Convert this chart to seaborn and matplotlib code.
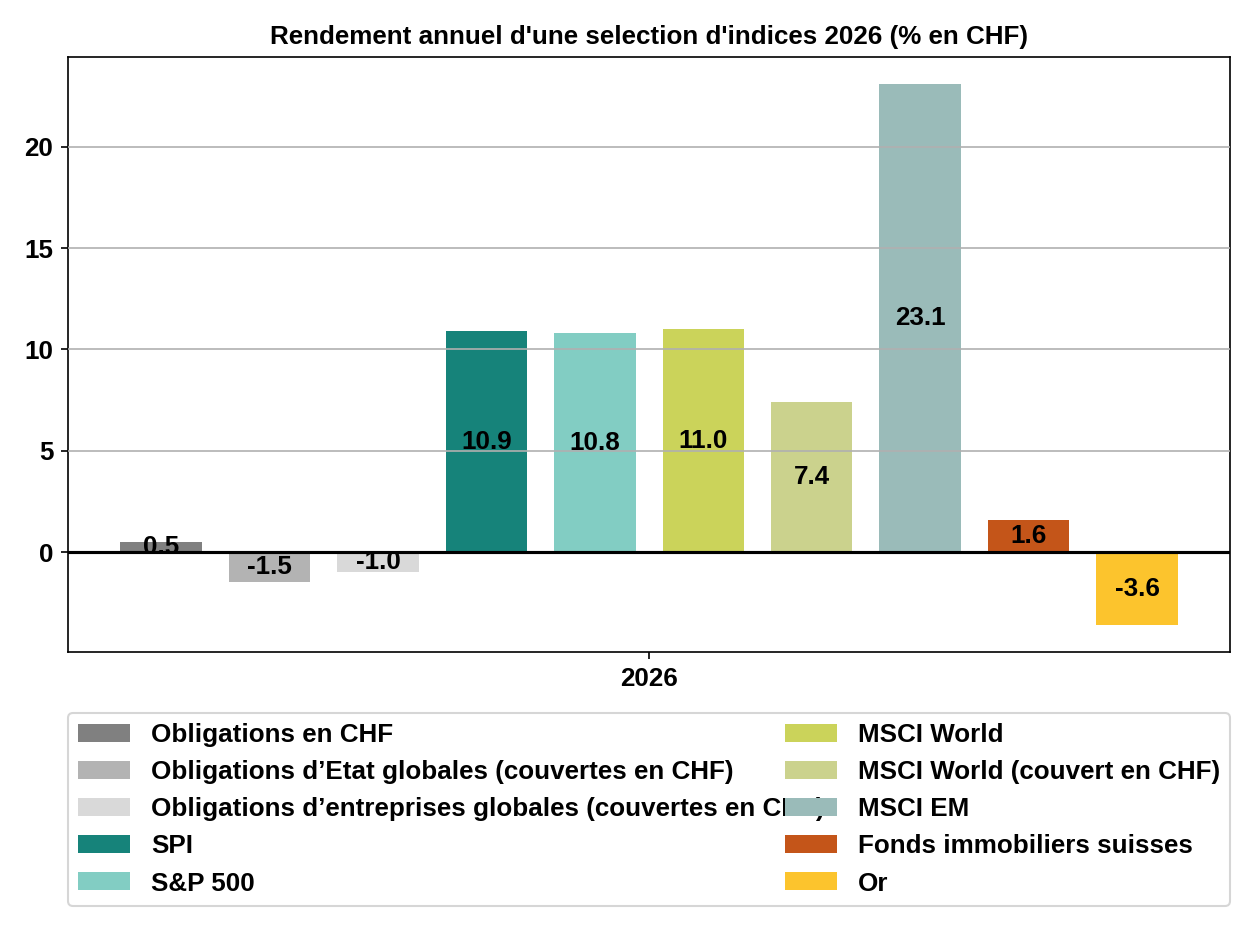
import pandas as pd
import matplotlib
matplotlib.use("Agg")
import matplotlib.pyplot as plt
import seaborn as sns

# Data
annee = ["2026"]
indices = [
    "Obligations en CHF",
    "Obligations d\u2019Etat globales (couvertes en CHF)",
    "Obligations d\u2019entreprises globales (couvertes en CHF)",
    "SPI",
    "S&P 500",
    "MSCI World",
    "MSCI World (couvert en CHF)",
    "MSCI EM",
    "Fonds immobiliers suisses",
    "Or",
]
rendements = [0.5, -1.5, -1.0, 10.9, 10.8, 11.0, 7.4, 23.1, 1.6, -3.6]
couleurs = ["#808080", "#b3b3b3", "#d9d9d9", "#16837a", "#82cdc3",
            "#cbd35a", "#cbd28d", "#9abbb9", "#c45519", "#fcc42d"]

df = pd.DataFrame({"annee": annee * len(indices), "indice": indices, "rendement": rendements})

sns.set_style("ticks")
plt.rcParams["font.family"] = ["Liberation Sans", "DejaVu Sans"]
plt.rcParams["font.weight"] = "bold"
plt.rcParams["font.size"] = 12.5
for k in ["text.color", "axes.labelcolor", "xtick.color", "ytick.color", "axes.edgecolor"]:
    plt.rcParams[k] = "black"

fig, ax = plt.subplots(figsize=(8.36, 6.267), dpi=150)
fig.subplots_adjust(left=0.0542, right=0.981, top=0.9394, bottom=0.3064)

sns.barplot(data=df, x="annee", y="rendement", hue="indice", hue_order=indices,
            palette=couleurs, saturation=1, width=0.933, gap=0.25, ax=ax,
            linewidth=0, edgecolor="none", legend=True)

for cont in ax.containers:
    ax.bar_label(cont, fmt="%.1f", label_type="center", fontsize=12.5,
                 fontweight="bold", color="black")

# grid drawn over the bars, like the reference
ax.yaxis.grid(True, color="#b0b0b0", linewidth=0.8)
ax.set_axisbelow(False)
ax.axhline(0, color="black", linewidth=1.5, zorder=3)
ax.set_xlim(-0.5, 0.5)
ax.set_ylabel("")
ax.set_xlabel("")
ax.set_yticks([0, 5, 10, 15, 20])
for lab in ax.get_xticklabels() + ax.get_yticklabels():
    lab.set_fontweight("bold")
    lab.set_fontsize(12.5)
for s in ax.spines.values():
    s.set_color("black")
    s.set_linewidth(0.8)
ax.set_title("Rendement annuel d'une selection d'indices 2026 (% en CHF)",
             fontsize=12.5, fontweight="bold")

handles, labels = ax.get_legend_handles_labels()
ax.legend(handles, labels, loc="upper left", bbox_to_anchor=(0, -0.1025, 1, 0),
          mode="expand", ncol=2, borderaxespad=0,
          prop={"weight": "bold", "size": 12.5}, frameon=True)

plt.savefig("out.png", dpi=150)
plt.close()
